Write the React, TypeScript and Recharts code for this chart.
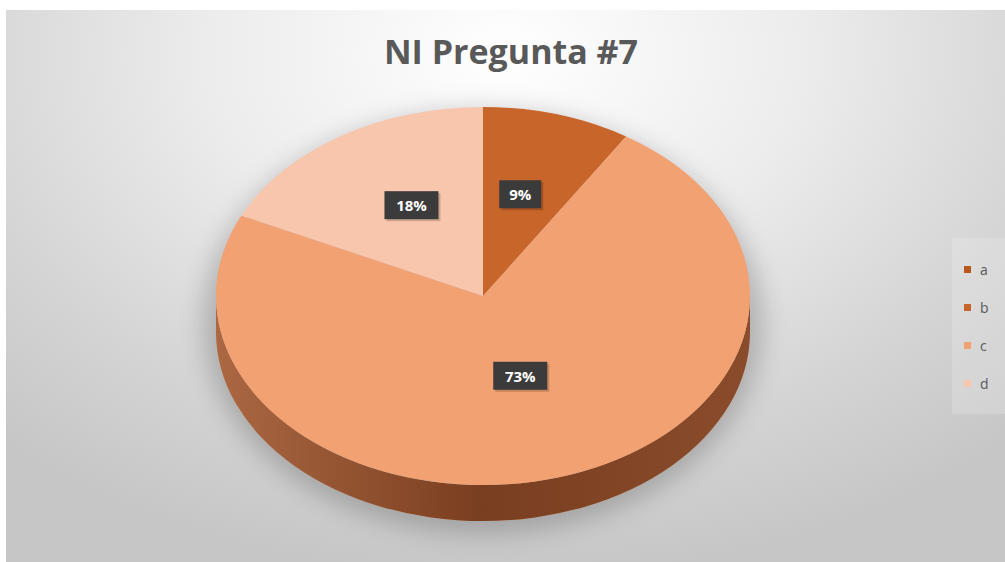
import { PieChart, Pie, Legend } from "recharts";

// answer counts (percent)
const categories = ["a", "b", "c", "d"];
const values = [0, 9, 73, 18];
const sliceColors = ["#B8581C", "#C8652A", "#F2A172", "#F8C6AC"];

const data = categories.map((name, i) => ({
  name,
  value: values[i],
  fill: sliceColors[i],
}));

const TILT = 0.708; // vertical squash of the pie (ry / rx)
const DEPTH = 36; // height of the side wall
const RAD = Math.PI / 180;

// elliptical sector + visible front wall, drawn from the angles recharts computes
function Slice3D(props: any) {
  const { cx, cy, outerRadius, startAngle, endAngle, fill } = props;
  const rx = outerRadius;
  const ry = outerRadius * TILT;
  const span = Math.abs(startAngle - endAngle);
  if (!span) return <g />;

  const p = (a: number, dy = 0) =>
    `${cx + rx * Math.cos(a * RAD)},${cy - ry * Math.sin(a * RAD) + dy}`;

  const sweep = startAngle > endAngle ? 1 : 0;
  const large = span > 180 ? 1 : 0;
  const top = `M${cx},${cy} L${p(startAngle)} A${rx},${ry} 0 ${large} ${sweep} ${p(endAngle)} Z`;

  // front half is where sin(angle) < 0
  const lo = Math.min(startAngle, endAngle);
  const hi = Math.max(startAngle, endAngle);
  const walls: string[] = [];
  for (let k = -2; k <= 1; k++) {
    const a = Math.max(lo, -180 + 360 * k);
    const b = Math.min(hi, 360 * k);
    if (b > a) {
      walls.push(
        `M${p(a)} A${rx},${ry} 0 0 0 ${p(b)} L${p(b, DEPTH)} A${rx},${ry} 0 0 1 ${p(a, DEPTH)} Z`
      );
    }
  }

  return (
    <g>
      <defs>
        <linearGradient id="wallShade" x1="0" y1="0" x2="1" y2="0">
          <stop offset="0%" stopColor="#4A1800" stopOpacity={0.42} />
          <stop offset="50%" stopColor="#4A1800" stopOpacity={0.72} />
          <stop offset="100%" stopColor="#4A1800" stopOpacity={0.62} />
        </linearGradient>
      </defs>
      {walls.map((d, i) => (
        <g key={i}>
          <path d={d} fill={fill} />
          <path d={d} fill="url(#wallShade)" />
        </g>
      ))}
      <path d={top} fill={fill} />
    </g>
  );
}

function renderLabel(props: any) {
  const { cx, cy, midAngle, outerRadius, value, percent } = props;
  if (!value) return null;
  const r = outerRadius * 0.5;
  const x = cx + r * Math.cos(midAngle * RAD);
  // back of the tilted pie sits a little higher
  const y = cy - r * TILT * Math.sin(midAngle * RAD) - 11;
  const text = `${Math.round(percent * 100)}%`;
  const w = 18 + text.length * 12;
  return (
    <g>
      <rect x={x - w / 2 + 2} y={y - 12} width={w} height={28} fill="#000" opacity={0.18} />
      <rect x={x - w / 2} y={y - 14} width={w} height={28} fill="#3B3B3B" />
      <text
        x={x}
        y={y}
        textAnchor="middle"
        dominantBaseline="central"
        fill="#FFFFFF"
        fontSize={15}
        fontWeight="bold"
        fontFamily="'Open Sans', sans-serif"
      >
        {text}
      </text>
    </g>
  );
}

function renderLegend(props: any) {
  const items = props.payload || [];
  return (
    <div
      style={{
        background: "rgba(255,255,255,0.18)",
        padding: "12px 0 12px 12px",
      }}
    >
      {items.map((it: any) => (
        <div
          key={it.value}
          style={{
            display: "flex",
            alignItems: "center",
            height: 38,
            fontSize: 14,
            color: "#595959",
          }}
        >
          <span
            style={{
              width: 7,
              height: 7,
              background: it.color,
              marginRight: 9,
              display: "inline-block",
            }}
          />
          {it.value}
        </div>
      ))}
    </div>
  );
}

export default function App() {
  const pieProps: any = {
    shape: Slice3D,
    activeShape: Slice3D,
    inactiveShape: Slice3D,
  };
  return (
    <div
      style={{
        position: "absolute",
        left: 0,
        top: 0,
        width: 1005,
        height: 562,
        background: "#fff",
        fontFamily: "'Open Sans', sans-serif",
        overflow: "hidden",
      }}
    >
      <div
        style={{
          position: "absolute",
          left: 6,
          top: 10,
          right: 0,
          bottom: 0,
          background:
            "radial-gradient(ellipse 75% 95% at 50% 8%, #ffffff 0%, #ececec 40%, #d4d4d4 75%, #c6c6c6 100%)",
        }}
      />
      {/* soft shadow under the pie */}
      <div
        style={{
          position: "absolute",
          left: 483 - 280,
          top: 296 - 186,
          width: 560,
          height: 424,
          borderRadius: "50%",
          background: "rgba(0,0,0,0.2)",
          filter: "blur(12px)",
        }}
      />
      <div
        style={{
          position: "absolute",
          left: 0,
          width: 1022,
          top: 28,
          textAlign: "center",
          fontSize: 34,
          fontWeight: "bold",
          color: "#595959",
        }}
      >
        NI Pregunta #7
      </div>
      <div style={{ position: "absolute", left: 0, top: 0 }}>
        <PieChart width={1005} height={562}>
          <Pie
            data={data}
            dataKey="value"
            nameKey="name"
            cx={478}
            cy={291}
            outerRadius={267}
            startAngle={90}
            endAngle={-270}
            stroke="none"
            {...pieProps}
            label={renderLabel}
            labelLine={false}
            isAnimationActive={false}
          />
          <Legend
            layout="vertical"
            content={renderLegend}
            wrapperStyle={{ position: "absolute", left: 952, top: 238, width: 53 }}
          />
        </PieChart>
      </div>
    </div>
  );
}
